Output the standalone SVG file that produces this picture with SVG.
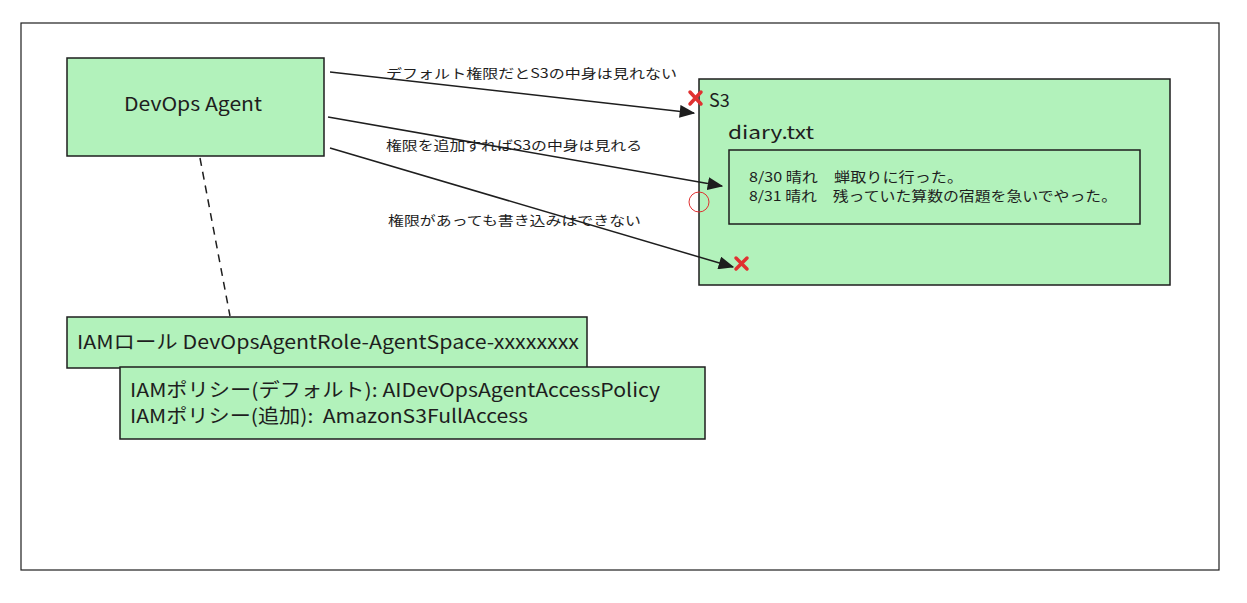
<svg xmlns="http://www.w3.org/2000/svg" width="1247" height="603" viewBox="0 0 1247 603">
<defs>
<style>
.box{fill:#b2f2bb;stroke:#1e1e1e;stroke-width:1.5}
.t{font-family:"Noto Sans CJK JP","Liberation Sans",sans-serif;fill:#1e1e1e}
.lbl{font-size:13px}
.edge{stroke:#1e1e1e;stroke-width:1.5;fill:none}
.x{stroke:#e03131;stroke-width:3.5;stroke-linecap:round}
</style>
<marker id="ah" viewBox="0 0 12 10" refX="11" refY="5" markerWidth="16" markerHeight="13" markerUnits="userSpaceOnUse" orient="auto"><path d="M0,0 L12,5 L0,10 z" fill="#1e1e1e"/></marker>
</defs>
<rect width="1247" height="603" fill="#ffffff"/>
<rect x="21" y="23" width="1198" height="547" fill="none" stroke="#1e1e1e" stroke-width="1.2"/>
<g id="devops-agent">
<rect class="box" x="67" y="58" width="257" height="98"/>
<text class="t" x="193" y="111" font-size="19" text-anchor="middle" textLength="138" lengthAdjust="spacingAndGlyphs">DevOps Agent</text>
</g>
<g id="s3">
<rect class="box" x="699" y="79" width="471" height="206"/>
<text class="t" x="709" y="107" font-size="18">S3</text>
<text class="t" x="728" y="139" font-size="18" textLength="86" lengthAdjust="spacingAndGlyphs">diary.txt</text>
</g>
<g id="diary">
<rect x="729" y="150" width="411" height="74" fill="none" stroke="#1e1e1e" stroke-width="1.5"/>
<text class="t" x="749" y="182" font-size="13.5" textLength="214" lengthAdjust="spacingAndGlyphs">8/30 晴れ　蝉取りに行った。</text>
<text class="t" x="749" y="201" font-size="13.5" textLength="368" lengthAdjust="spacingAndGlyphs">8/31 晴れ　残っていた算数の宿題を急いでやった。</text>
</g>
<g id="iam-role">
<rect class="box" x="67" y="317" width="520" height="51"/>
<text class="t" x="77" y="349" font-size="19" textLength="502" lengthAdjust="spacingAndGlyphs">IAMロール DevOpsAgentRole-AgentSpace-xxxxxxxx</text>
</g>
<g id="iam-policy">
<rect class="box" x="120" y="367" width="585" height="72"/>
<text class="t" x="130" y="397" font-size="19" textLength="530" lengthAdjust="spacingAndGlyphs">IAMポリシー(デフォルト): AIDevOpsAgentAccessPolicy</text>
<text class="t" x="130" y="423" font-size="19" textLength="398" lengthAdjust="spacingAndGlyphs">IAMポリシー(追加):&#160; AmazonS3FullAccess</text>
</g>
<g id="connectors">
<line class="edge" x1="200" y1="158" x2="230" y2="316" stroke-dasharray="8 6"/>
<line class="edge" x1="330" y1="72" x2="694" y2="113" marker-end="url(#ah)"/>
<line class="edge" x1="328" y1="117" x2="722" y2="186" marker-end="url(#ah)"/>
<line class="edge" x1="330" y1="148" x2="733" y2="267" marker-end="url(#ah)"/>
<text class="t lbl" x="386" y="78" textLength="291" lengthAdjust="spacingAndGlyphs">デフォルト権限だとS3の中身は見れない</text>
<text class="t lbl" x="386" y="150" textLength="256" lengthAdjust="spacingAndGlyphs">権限を追加すればS3の中身は見れる</text>
<text class="t lbl" x="388" y="225" textLength="253" lengthAdjust="spacingAndGlyphs">権限があっても書き込みはできない</text>
</g>
<g id="marks">
<path class="x" d="M690,92 L701,104 M701,92 L690,104"/>
<path class="x" d="M736,258 L747,269 M747,258 L736,269"/>
<circle cx="699" cy="202" r="10" fill="none" stroke="#e03131" stroke-width="1"/>
</g>
</svg>
